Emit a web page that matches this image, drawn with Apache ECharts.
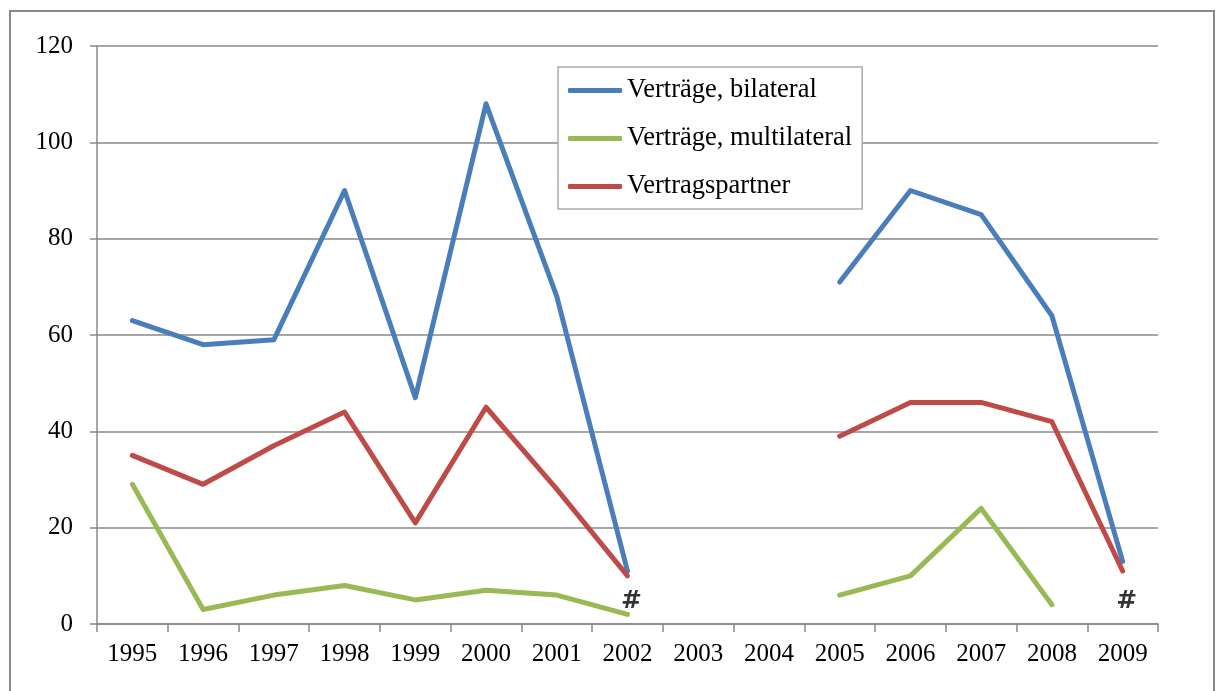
<!DOCTYPE html>
<html>
<head>
<meta charset="utf-8">
<script src="https://cdn.jsdelivr.net/npm/echarts@6/dist/echarts.min.js"></script>
<style>
html, body { margin: 0; padding: 0; background: #fff; }
#chart0 { width: 1215px; height: 691px; }
</style>
</head>
<body>
<div id="chart0"></div>
<script>
'use strict';

// chart data
var years = [ '1995', '1996', '1997', '1998', '1999', '2000', '2001', '2002',
		'2003', '2004', '2005', '2006', '2007', '2008', '2009' ];
var bilateral = [ 63, 58, 59, 90, 47, 108, 68, 11, null, null, 71, 90, 85, 64, 13 ];
var multilateral = [ 29, 3, 6, 8, 5, 7, 6, 2, null, null, 6, 10, 24, 4, null ];
var partner = [ 35, 29, 37, 44, 21, 45, 28, 10, null, null, 39, 46, 46, 42, 11 ];
var hashMarks = [ null, null, null, null, null, null, null, 4.6,
		null, null, null, null, null, null, 4.6 ];
var yTicks = [ 0, 20, 40, 60, 80, 100, 120 ];

var font = '"Liberation Serif", "Times New Roman", serif';
var gray = '#888888';

var chart0 = echarts.init(document.getElementById('chart0'));

function lineSeries(name, data, color) {
	return {
		name : name,
		type : 'line',
		data : data,
		symbol : 'none',
		connectNulls : false,
		lineStyle : {
			color : color,
			width : 5,
			cap : 'round',
			join : 'round'
		},
		itemStyle : {
			color : color
		}
	};
}

chart0.setOption({
	animation : false,
	graphic : [ {
		type : 'rect',
		shape : {
			x : 10,
			y : 11,
			width : 1204,
			height : 690
		},
		style : {
			fill : 'none',
			stroke : gray,
			lineWidth : 2
		},
		z : -1
	} ],
	grid : {
		left : 97,
		right : 57,
		top : 46,
		bottom : 67
	},
	legend : {
		orient : 'vertical',
		left : 558,
		top : 67,
		padding : [ 10, 10, 9, 10 ],
		itemGap : 21,
		itemWidth : 54,
		itemHeight : 5,
		icon : 'roundRect',
		borderColor : '#aaaaaa',
		borderWidth : 1.5,
		backgroundColor : '#fff',
		textStyle : {
			fontFamily : font,
			fontSize : 26.5,
			color : '#000',
			padding : [ 0, 0, 0, 0 ]
		},
		data : [ 'Verträge, bilateral', 'Verträge, multilateral', 'Vertragspartner' ]
	},
	xAxis : {
		type : 'category',
		data : years,
		boundaryGap : true,
		axisLine : {
			lineStyle : {
				color : gray,
				width : 1.5
			}
		},
		axisTick : {
			show : true,
			length : 8,
			lineStyle : {
				color : gray,
				width : 1.5
			}
		},
		axisLabel : {
			fontFamily : font,
			fontSize : 25,
			color : '#000',
			margin : 18,
			interval : 0
		}
	},
	yAxis : {
		type : 'value',
		min : yTicks[0],
		max : yTicks[yTicks.length - 1],
		interval : 20,
		axisLine : {
			show : true,
			lineStyle : {
				color : gray,
				width : 1.5
			}
		},
		axisTick : {
			show : true,
			length : 7,
			lineStyle : {
				color : gray,
				width : 1.5
			}
		},
		splitLine : {
			show : true,
			lineStyle : {
				color : gray,
				width : 1.5
			}
		},
		axisLabel : {
			fontFamily : font,
			fontSize : 25,
			color : '#000',
			margin : 24
		}
	},
	series : [ lineSeries('Verträge, bilateral', bilateral, '#4a7ebb'),
			lineSeries('Verträge, multilateral', multilateral, '#98b954'),
			lineSeries('Vertragspartner', partner, '#be4b48'), {
				name : 'hash',
				type : 'scatter',
				data : hashMarks,
				symbolSize : 0,
				silent : true,
				label : {
					show : true,
					position : 'inside',
					offset : [ 4, 0 ],
					formatter : '#',
					fontFamily : '"DejaVu Sans", sans-serif',
					fontWeight : 'bold',
					fontSize : 25,
					color : '#000'
				}
			} ]
});
</script>
</body>
</html>
